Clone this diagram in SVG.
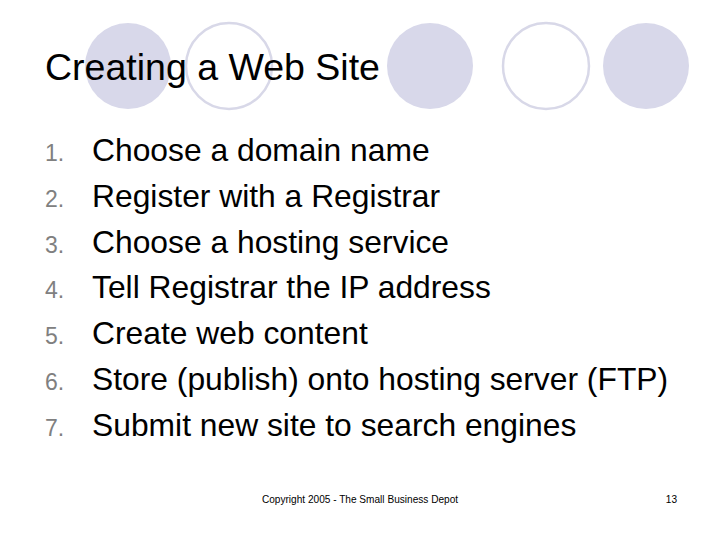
<svg xmlns="http://www.w3.org/2000/svg" width="720" height="540" viewBox="0 0 720 540">
<style>
.f{fill:#d8d8ea}
.o{fill:none;stroke:#d8d8e8;stroke-width:2.5}
.t{font-family:"Liberation Sans",Arial,sans-serif;fill:#000}
.n{font-family:"Liberation Sans",Arial,sans-serif;fill:#808080;font-size:23px}
.i{font-size:31.8px}
</style>
<rect width="720" height="540" fill="#fff"/>
<g id="circles">
<circle class="f" cx="128" cy="66" r="43"/>
<circle class="o" cx="229" cy="66" r="43"/>
<circle class="f" cx="430" cy="66" r="43"/>
<circle class="o" cx="546" cy="66" r="43"/>
<circle class="f" cx="646" cy="66" r="43"/>
</g>
<text class="t" x="45" y="80" font-size="37.5">Creating a Web Site</text>
<g id="list">
<text class="n" x="45" y="161">1.</text><text class="t i" x="92" y="161">Choose a domain name</text>
<text class="n" x="45" y="207">2.</text><text class="t i" x="92" y="207">Register with a Registrar</text>
<text class="n" x="45" y="253">3.</text><text class="t i" x="92" y="253">Choose a hosting service</text>
<text class="n" x="45" y="298">4.</text><text class="t i" x="92" y="298">Tell Registrar the IP address</text>
<text class="n" x="45" y="344">5.</text><text class="t i" x="92" y="344">Create web content</text>
<text class="n" x="45" y="390">6.</text><text class="t i" x="92" y="390">Store (publish) onto hosting server (FTP)</text>
<text class="n" x="45" y="436">7.</text><text class="t i" x="92" y="436">Submit new site to search engines</text>
</g>
<text class="t" x="360" y="503" font-size="10.1" text-anchor="middle">Copyright 2005 - The Small Business Depot</text>
<text class="t" x="677" y="503" font-size="10.1" text-anchor="end">13</text>
</svg>
